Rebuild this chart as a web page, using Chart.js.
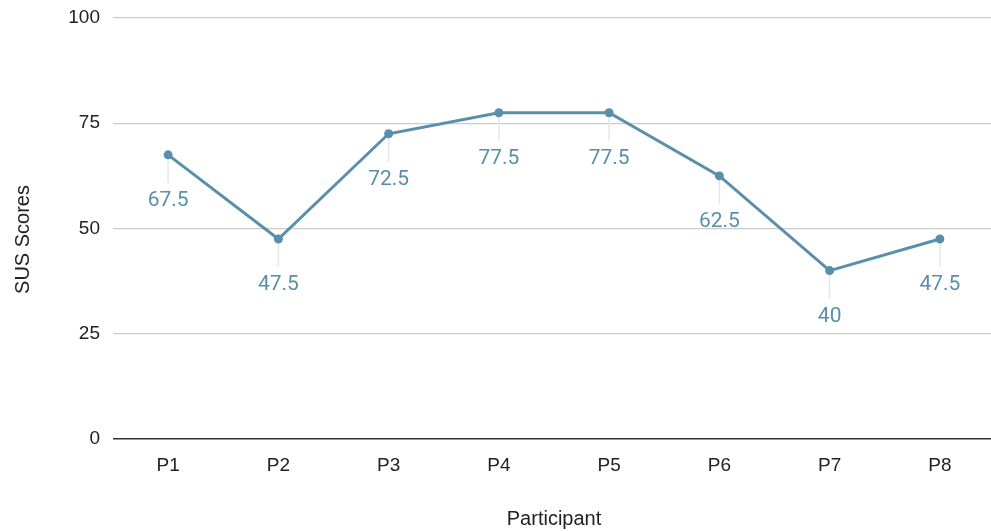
<!DOCTYPE html>
<html>
<head>
<meta charset="utf-8">
<script src="https://cdn.jsdelivr.net/npm/chart.js@4/dist/chart.umd.min.js"></script>
<style>
  html, body { margin: 0; padding: 0; background: #fff; overflow: hidden; }
  #wrap { width: 1001px; height: 531px; }
</style>
</head>
<body>
<div id="wrap"><canvas id="susChart" width="1001" height="531"></canvas></div>
<script>
// chart values
const participants = ["P1", "P2", "P3", "P4", "P5", "P6", "P7", "P8"];
const susScores = [67.5, 47.5, 72.5, 77.5, 77.5, 62.5, 40, 47.5];
const yTicks = [0, 25, 50, 75, 100];

const lineColor = '#5a8fab';

// labels below each point, with a short leader line
const pointLabels = {
    id: 'pointLabels',
    beforeDatasetsDraw(chart) {
        const ctx = chart.ctx;
        const meta = chart.getDatasetMeta(0);
        ctx.save();
        ctx.strokeStyle = '#e6e6e6';
        ctx.lineWidth = 1.5;
        meta.data.forEach(pt => {
            ctx.beginPath();
            ctx.moveTo(pt.x, pt.y + 2);
            ctx.lineTo(pt.x, pt.y + 28);
            ctx.stroke();
        });
        ctx.restore();
    },
    afterDatasetsDraw(chart) {
        const ctx = chart.ctx;
        const meta = chart.getDatasetMeta(0);
        const values = chart.data.datasets[0].data;
        ctx.save();
        ctx.fillStyle = lineColor;
        ctx.font = '21px Roboto';
        ctx.textAlign = 'center';
        ctx.textBaseline = 'middle';
        meta.data.forEach((pt, i) => {
            ctx.fillText(String(values[i]), pt.x, pt.y + 46);
        });
        ctx.restore();
    }
};

// y axis title, sits a bit below the middle of the plot like the original
const yTitle = {
    id: 'yTitle',
    afterDraw(chart) {
        const ctx = chart.ctx;
        const area = chart.chartArea;
        ctx.save();
        ctx.translate(23, (area.top + area.bottom) / 2 + 11);
        ctx.rotate(-Math.PI / 2);
        ctx.fillStyle = '#222';
        ctx.font = '20px "Liberation Sans"';
        ctx.textAlign = 'center';
        ctx.textBaseline = 'middle';
        ctx.fillText('SUS Scores', 0, 0);
        ctx.restore();
    }
};

new Chart(document.getElementById('susChart'), {
    type: 'line',
    data: {
        labels: participants,
        datasets: [{
            data: susScores,
            borderColor: lineColor,
            backgroundColor: lineColor,
            borderWidth: 3,
            pointRadius: 3,
            pointHoverRadius: 3,
            tension: 0
        }]
    },
    options: {
        responsive: false,
        animation: false,
        layout: { padding: { top: 18, right: 0, left: 0, bottom: 0 } },
        plugins: {
            legend: { display: false },
            tooltip: { enabled: false }
        },
        scales: {
            x: {
                offset: true,
                grid: { display: false },
                border: { display: false },
                ticks: {
                    color: '#222',
                    font: { family: 'Liberation Sans', size: 19 },
                    padding: 7
                },
                title: {
                    display: true,
                    text: 'Participant',
                    color: '#222',
                    font: { family: 'Liberation Sans', size: 20 },
                    padding: { top: 0, bottom: 0 }
                },
                afterFit(scale) {
                    scale.height = 92;
                    scale.paddingLeft = 0;
                    scale.paddingRight = 0;
                }
            },
            y: {
                min: 0,
                max: 100,
                afterBuildTicks(scale) { scale.ticks = yTicks.map(v => ({ value: v })); },
                grid: {
                    color: c => c.tick && c.tick.value === 0 ? '#333' : '#cccccc',
                    lineWidth: c => c.tick && c.tick.value === 0 ? 1.5 : 1.2,
                    drawTicks: false
                },
                border: { display: false },
                ticks: {
                    color: '#222',
                    font: { family: 'Liberation Sans', size: 19 },
                    padding: 13
                },
                title: { display: false },
                afterFit(scale) {
                    scale.width = 113;
                    scale.paddingTop = 0;
                    scale.paddingBottom = 0;
                }
            }
        }
    },
    plugins: [pointLabels, yTitle]
});
</script>
</body>
</html>
